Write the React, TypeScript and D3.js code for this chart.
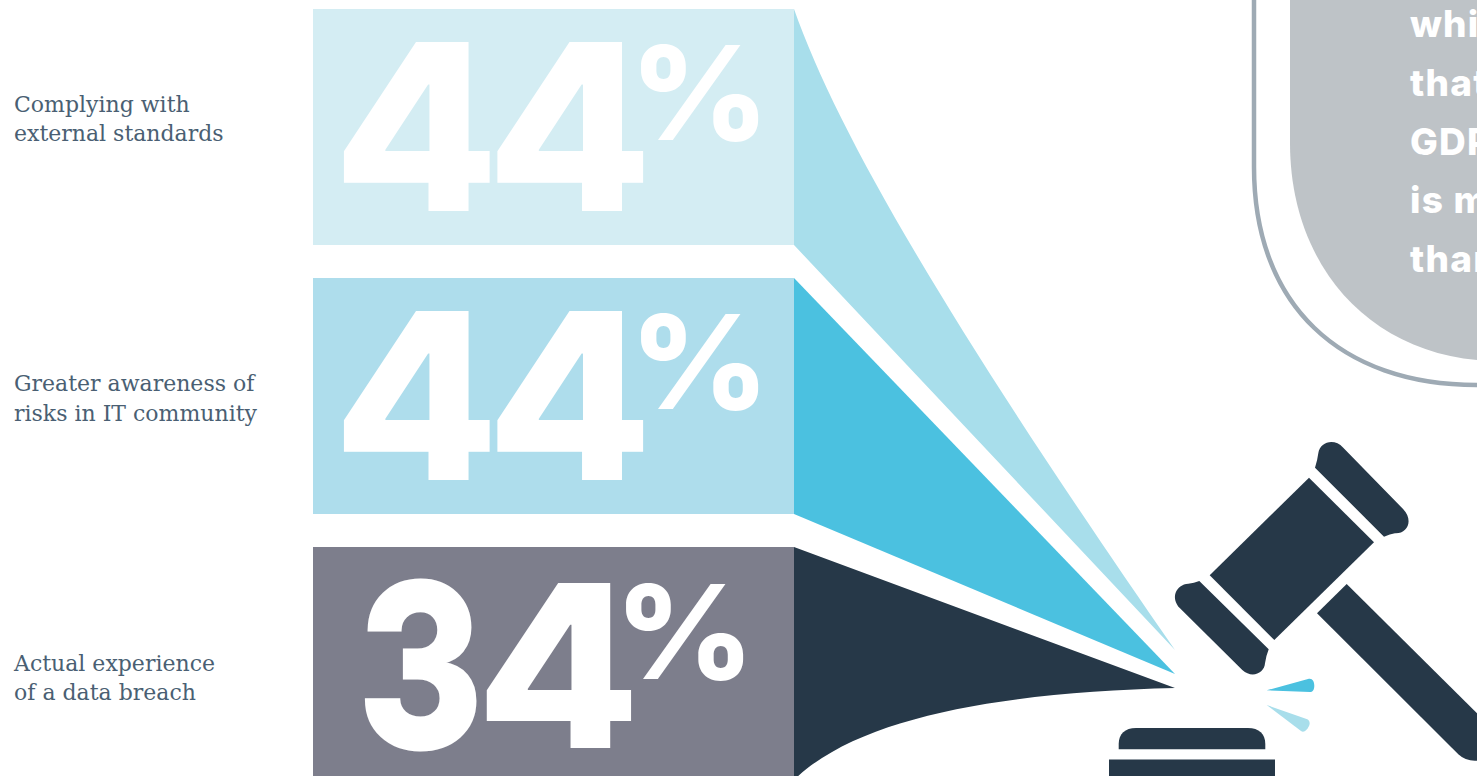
import React from "react";
import * as d3 from "d3";

// Survey results, top to bottom
const categories = ["Complying with|external standards", "Greater awareness of|risks in IT community", "Actual experience|of a data breach"];
const values = [44, 44, 34];
const barFills = ["#d4edf3", "#aeddec", "#7d7e8c"];
const wedgeFills = ["#a8deeb", "#4bc1e0", "#263848"];
const calloutLines = ["which", "that", "GDPR", "is more", "than"];

const W = 1477;
const H = 776;
const NAVY = "#263848";
const LABEL = "#4a5f73";
const DIGITS = "Inter, 'Open Sans', sans-serif";

const y = d3.scaleBand<number>().domain(d3.range(values.length)).range([9, 783]).paddingInner(33 / 269);
const labelY = d3.scaleLinear().domain([0, 2]).range([111.5, 670.5]);
const barLeft = 313;
const barRight = 794;
const apexX = 1175;
const apexY = d3.scaleOrdinal<number, number>().domain([0, 1, 2]).range([650, 674, 688]);

// Each wedge runs from the right edge of its bar to a point near the gavel
function wedgePath(i: number): string {
  const top = y(i)!;
  const bottom = top + y.bandwidth();
  const tip = apexY(i);
  const p = d3.path();
  p.moveTo(barRight, top);
  if (i === 0) p.bezierCurveTo(840, 140, 960, 340, apexX, tip);
  else p.lineTo(apexX, tip);
  if (i === 2) p.bezierCurveTo(1010, 692, 860, 715, barRight, 780);
  else p.lineTo(barRight, bottom);
  p.closePath();
  return p.toString();
}

// Gavel icon outlines
const gavelHead = "M1309 477.7L1374 542.3L1274.3 640L1209.7 575.3Z";
const gavelCapTop = "M1315 467.7Q1317.5 460 1318.3 453.3C1320 441 1335 438 1343 447.5L1403.3 509.3C1414 521 1407 534 1395 533.3Q1390 534 1384 536.7Z";
const gavelCapBottom = "M1199.3 581Q1194 583 1188.3 583.7C1176 584.5 1170 598 1180 608.3L1242.3 670C1252 679 1264.5 673 1265 663.3Q1266 656 1268.7 649.3Z";
const gavelHandle = "M1346.7 584L1317 613.3L1458.3 754.3Q1466 761.5 1477 760.7L1477 713.3Z";
const sparkBlue = "M1266.7 690.3L1308 679C1312 677.5 1314.3 681 1314.3 685.7C1314.3 690 1312.5 692 1310 692Z";
const sparkLight = "M1266.7 705L1307.3 719.3C1310 720.5 1310 724 1309 726C1307 730 1304 733 1301 731Z";
const baseTop = "M1118.7 749.3L1118.7 744C1118.7 734 1125 728 1136 728L1248 728C1259 728 1265.3 734 1265.3 744L1265.3 749.3Z";

// Big figures are set glyph by glyph so the pair can sit tight together
function Figure({ value, top }: { value: number; top: number }) {
  const low = value < 40;
  const chars = String(value).split("");
  const lefts = low ? [358, 476] : [333, 486.5];
  const base = top + (low ? 200.5 : 202);
  const scaleX = (c: string) => (c === "3" ? 0.82 : low ? 1.03 : 1.04);
  return (
    <>
      {chars.map((c, k) => (
        <text
          key={k}
          transform={`translate(${lefts[k]},${base}) scale(${scaleX(c)},${low ? 0.98 : 1})`}
          fontFamily={DIGITS}
          fontWeight={800}
          fontSize={232}
          fill="#fff"
          stroke="#fff"
          strokeWidth={c === "3" ? 3 : 0}
        >
          {c}
        </text>
      ))}
      <text
        transform={`translate(${low ? 615 : 630},${top + (low ? 132 : 131)}) scale(1.04,1)`}
        fontFamily={DIGITS}
        fontWeight={800}
        fontSize={130}
        fill="#fff"
      >
        %
      </text>
    </>
  );
}

export default function App() {
  return (
    <svg width={W} height={H} viewBox={`0 0 ${W} ${H}`} style={{ position: "fixed", left: 0, top: 0, background: "#fff" }}>
      {/* Callout panel, running off the top right corner */}
      <path d="M1254 -5L1254 167C1254 305 1340 385 1477 385" fill="none" stroke="#9eaab4" strokeWidth={4.5} />
      <path d="M1290 -5L1290 143C1290 262 1365 350 1477 360L1477 -5Z" fill="#bec3c7" />
      {calloutLines.map((line, i) => (
        <text key={line} x={1410} y={37 + i * 58.8} fontFamily={DIGITS} fontWeight={800} fontSize={37} letterSpacing={1.2} fill="#fff">{line}</text>
      ))}

      {values.map((v, i) => {
        const top = y(i)!;
        return (
          <g key={i}>
            <rect x={barLeft} y={top} width={barRight - barLeft} height={y.bandwidth()} fill={barFills[i]} />
            <path d={wedgePath(i)} fill={wedgeFills[i]} />
            {categories[i].split("|").map((line, k) => (
              <text key={k} x={14} y={labelY(i) + k * 29.5} fontFamily="'DejaVu Serif', serif" fontSize={22} fill={LABEL}>{line}</text>
            ))}
            <Figure value={v} top={top} />
          </g>
        );
      })}

      <g fill={NAVY}>
        <path d={gavelHead} />
        <path d={gavelCapTop} />
        <path d={gavelCapBottom} />
        <path d={gavelHandle} />
        <path d={baseTop} />
        <rect x={1109} y={759.5} width={166} height={17} />
      </g>
      <path d={sparkBlue} fill="#4bc1e0" />
      <path d={sparkLight} fill="#a8deeb" />
    </svg>
  );
}
